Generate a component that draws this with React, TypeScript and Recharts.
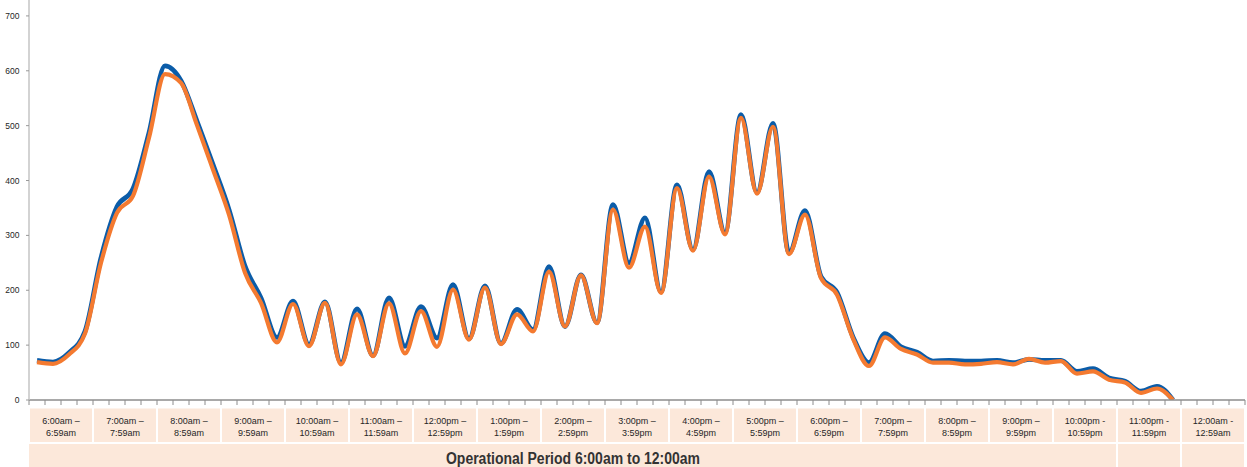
import { LineChart, Line, XAxis, YAxis } from "recharts";

// hour columns shown under the axis
const hourStarts = [
  "6:00am –", "7:00am –", "8:00am –", "9:00am –", "10:00am –", "11:00am –",
  "12:00pm –", "1:00pm –", "2:00pm –", "3:00pm –", "4:00pm –", "5:00pm –",
  "6:00pm –", "7:00pm –", "8:00pm –", "9:00pm –", "10:00pm -", "11:00pm -",
  "12:00am -",
];
const hourEnds = [
  "6:59am", "7:59am", "8:59am", "9:59am", "10:59am", "11:59am",
  "12:59pm", "1:59pm", "2:59pm", "3:59pm", "4:59pm", "5:59pm",
  "6:59pm", "7:59pm", "8:59pm", "9:59pm", "10:59pm", "11:59pm",
  "12:59am",
];
const periodTitle = "Operational Period 6:00am to 12:00am";
const periodHours = 17; // columns covered by the title cell

// counts per 15-minute slot, 6:00am onwards
const primaryCounts = [
  72, 69, 86, 125, 259, 352, 385, 487, 609, 582, 508, 429,
  347, 244, 186, 114, 180, 101, 179, 68, 166, 81, 186, 98,
  170, 113, 210, 112, 208, 103, 165, 128, 243, 134, 228, 141,
  356, 250, 332, 197, 392, 274, 416, 305, 520, 378, 504, 268,
  345, 225, 196, 115, 68, 121, 97, 87, 71, 72, 71, 71,
  72, 68, 74, 72, 72, 52, 57, 40, 34, 16, 25, 0,
];
const secondaryCounts = [
  69, 66, 83, 121, 250, 341, 372, 478, 594, 578, 501, 420,
  338, 232, 177, 105, 175, 98, 177, 65, 156, 80, 176, 85,
  162, 97, 201, 110, 205, 102, 156, 125, 234, 134, 227, 140,
  347, 241, 316, 195, 386, 272, 407, 302, 514, 376, 498, 266,
  338, 222, 192, 112, 62, 114, 93, 83, 68, 68, 65, 66,
  69, 65, 75, 68, 71, 48, 52, 37, 32, 13, 21, 0,
];

const yTicks = [0, 100, 200, 300, 400, 500, 600, 700];
const quarterTicks = Array.from({ length: hourStarts.length * 4 + 1 }, (_, i) => i);

const data = primaryCounts.map((v, i) => ({
  slot: i + 0.5,
  primary: v,
  secondary: secondaryCounts[i],
}));

const W = 1247;
const H = 467;
const Y_AXIS_W = 29;
const RIGHT = 2;
const TICK_SIZE = 5;
const TICK_MARGIN = 2;
const HOUR_W = (W - Y_AXIS_W - RIGHT) / hourStarts.length;

const FONT = "'Liberation Sans', Arial, sans-serif";
const PEACH = "#fce8da";
const TEXT = "#262626";

const HourTick = (props: any) => {
  const { x, y, payload } = props;
  const v = payload.value as number;
  if (v % 4 !== 2) return <g />;
  const h = (v - 2) / 4;
  const axisY = y - TICK_SIZE - TICK_MARGIN;
  const left = x - HOUR_W / 2;
  return (
    <g fontFamily={FONT}>
      <rect x={left + 1} y={axisY + 8.5} width={HOUR_W - 2} height={33.5} fill={PEACH} />
      <text x={x} y={axisY + 23.5} textAnchor="middle" fontSize={9} fill={TEXT}>
        {hourStarts[h]}
      </text>
      <text x={x} y={axisY + 36} textAnchor="middle" fontSize={9} fill={TEXT}>
        {hourEnds[h]}
      </text>
      {h === 0 && (
        <g>
          <rect x={left} y={axisY + 44} width={HOUR_W * periodHours - 1} height={30} fill={PEACH} />
          <text
            x={left + (HOUR_W * periodHours) / 2}
            y={axisY + 63.5}
            textAnchor="middle"
            fontSize={16}
            fontWeight="bold"
            textLength={254}
            lengthAdjust="spacingAndGlyphs"
            fill="#333"
          >
            {periodTitle}
          </text>
        </g>
      )}
      {h >= periodHours && (
        <rect x={left + 1} y={axisY + 44} width={HOUR_W - 2} height={30} fill={PEACH} />
      )}
    </g>
  );
};

const CountTick = (props: any) => {
  const { y, payload } = props;
  return (
    <text
      x={19.5}
      y={y}
      dy={3}
      textAnchor="end"
      fontSize={8.5}
      fontFamily={FONT}
      fill={TEXT}
    >
      {payload.value}
    </text>
  );
};

export default function App() {
  return (
    <div style={{ position: "absolute", left: 0, top: 0, width: W, height: H, background: "#fff" }}>
      <LineChart
        width={W}
        height={H}
        data={data}
        margin={{ top: 0, right: RIGHT, bottom: 0, left: 0 }}
      >
        <XAxis
          type="number"
          dataKey="slot"
          domain={[0, quarterTicks.length - 1]}
          ticks={quarterTicks}
          interval={0}
          height={67}
          tickSize={TICK_SIZE}
          tickMargin={TICK_MARGIN}
          axisLine={{ stroke: "#8c8c8c", strokeWidth: 1.5 }}
          tickLine={{ stroke: "#8c8c8c" }}
          tick={(p: any) => <HourTick {...p} />}
        />
        <YAxis
          width={Y_AXIS_W}
          domain={[0, 729]}
          ticks={yTicks}
          interval={0}
          allowDataOverflow
          tickSize={3}
          tickMargin={6}
          axisLine={{ stroke: "#c4c4c4", strokeWidth: 1.5 }}
          tickLine={{ stroke: "#999" }}
          tick={(p: any) => <CountTick {...p} />}
        />
        <Line
          type="monotone"
          dataKey="primary"
          stroke="#0b5ca8"
          strokeWidth={4.8}
          dot={false}
          isAnimationActive={false}
        />
        <Line
          type="monotone"
          dataKey="secondary"
          stroke="#f47a30"
          strokeWidth={4.2}
          dot={false}
          isAnimationActive={false}
        />
      </LineChart>
    </div>
  );
}
